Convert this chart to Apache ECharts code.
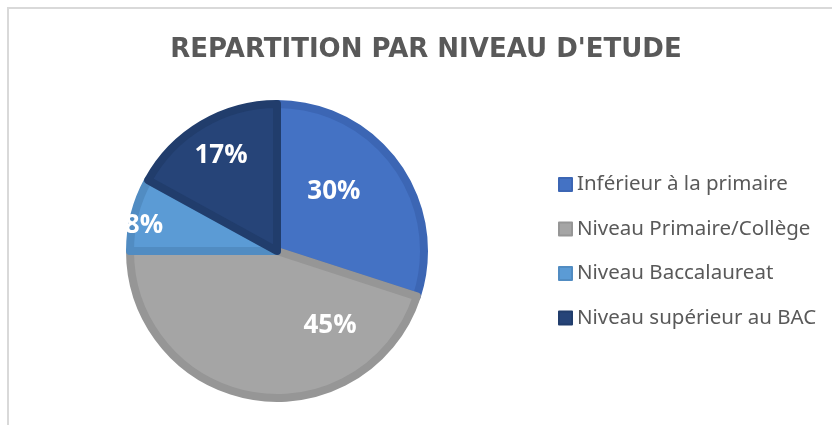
<!DOCTYPE html>
<html>
<head>
<meta charset="utf-8">
<script src="https://cdn.jsdelivr.net/npm/echarts@6/dist/echarts.min.js"></script>
<style>
  html, body { margin: 0; padding: 0; background: #fff; }
  #main { width: 832px; height: 425px; }
</style>
</head>
<body>
<div id="main"></div>
<script>
// values (percent)
const categories = ['Inférieur à la primaire', 'Niveau Primaire/Collège', 'Niveau Baccalaureat', 'Niveau supérieur au BAC'];
const values = [30, 45, 8, 17];
const fillColors = ['#4472C4', '#A5A5A5', '#5B9BD5', '#264478'];
const edgeColors = ['#3C66B4', '#969696', '#518CC2', '#213D6C'];
// label nudges from the default inside position, like the excel best fit
const labelShift = [[-5, -14], [65, -1], [-59, -6], [-17, -30]];

const chart = echarts.init(document.getElementById('main'));

const seriesData = categories.map((name, i) => {
    return {
        name: name,
        value: values[i],
        itemStyle: { color: fillColors[i], borderColor: edgeColors[i], borderWidth: 8 },
        label: { offset: labelShift[i] }
    };
});

const option = {
    animation: false,
    backgroundColor: '#fff',
    title: {
        text: "REPARTITION PAR NIVEAU D'ETUDE",
        left: 426,
        textAlign: 'center',
        top: 37,
        padding: 0,
        textStyle: {
            fontFamily: 'DejaVu Sans',
            fontWeight: 'bold',
            fontSize: 26,
            color: '#595959'
        }
    },
    legend: {
        orient: 'vertical',
        left: 558,
        top: 174,
        padding: 0,
        itemWidth: 13,
        itemHeight: 13,
        itemGap: 23.5,
        icon: 'rect',
        data: categories,
        textStyle: {
            fontFamily: 'Noto Sans',
            fontSize: 20.5,
            lineHeight: 20,
            color: '#595959'
        }
    },
    graphic: [
        {
            type: 'rect',
            shape: { x: 8, y: 8, width: 900, height: 500 },
            style: { fill: 'none', stroke: '#D9D9D9', lineWidth: 2 },
            silent: true
        },
        {
            // excel cuts the 8% label at the plot edge
            type: 'rect',
            z: 100,
            shape: { x: 100, y: 210, width: 26, height: 30 },
            style: { fill: '#fff' },
            silent: true
        }
    ],
    series: [
        {
            type: 'pie',
            center: [277, 251],
            radius: [0, 147],
            startAngle: 90,
            clockwise: true,
            avoidLabelOverlap: false,
            data: seriesData,
            label: {
                show: true,
                position: 'inside',
                formatter: '{d}%',
                color: '#fff',
                fontFamily: 'Open Sans',
                fontWeight: 'bold',
                fontSize: 26
            },
            labelLine: { show: false },
            emphasis: { disabled: true }
        }
    ]
};

chart.setOption(option);
</script>
</body>
</html>
